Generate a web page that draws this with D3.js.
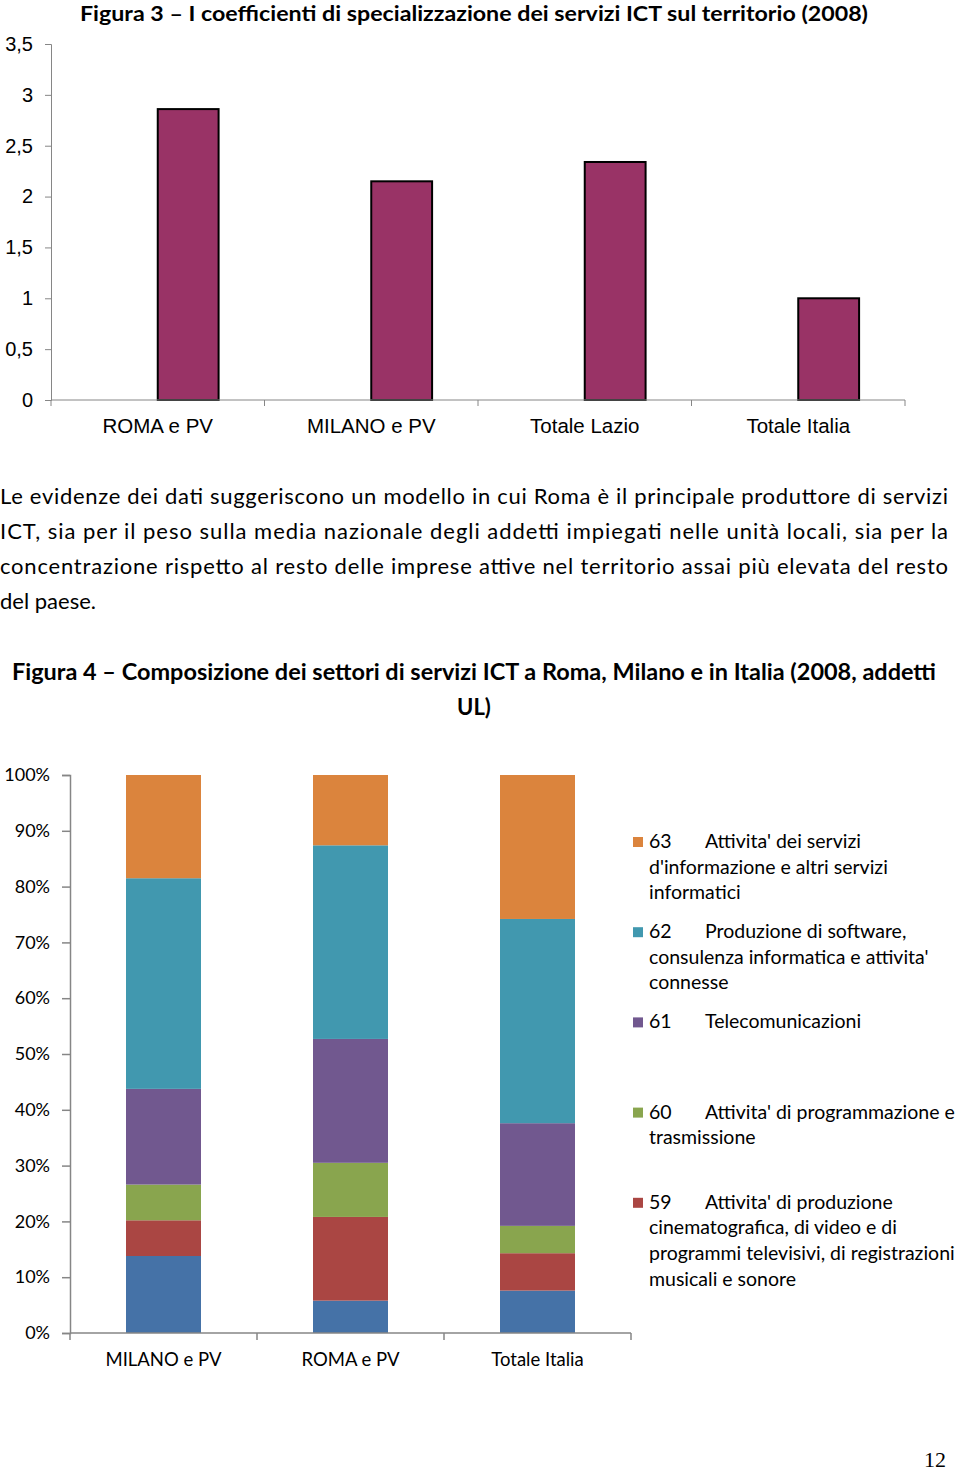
<!DOCTYPE html>
<html><head><meta charset="utf-8">
<script src="https://cdn.jsdelivr.net/npm/d3@7"></script>
<style>body{margin:0;background:#fff}svg{display:block}</style>
</head><body>
<script>
// ---- Figure 3 data
const fig3Title = "Figura 3 – I coefficienti di specializzazione dei servizi ICT sul territorio (2008)";
const fig3Categories = ["ROMA e PV", "MILANO e PV", "Totale Lazio", "Totale Italia"];
const fig3Values = [2.86, 2.15, 2.34, 1.0];
const fig3Ticks = [0, 0.5, 1, 1.5, 2, 2.5, 3, 3.5];

// ---- paragraph
const paragraphLines = [
  "Le evidenze dei dati suggeriscono un modello in cui Roma è il principale produttore di servizi",
  "ICT, sia per il peso sulla media nazionale degli addetti impiegati nelle unità locali, sia per la",
  "concentrazione rispetto al resto delle imprese attive nel territorio assai più elevata del resto",
  "del paese."
];

// ---- Figure 4 data
const fig4TitleLines = ["Figura 4 – Composizione dei settori di servizi ICT a Roma, Milano e in Italia (2008, addetti", "UL)"];
const fig4Categories = ["MILANO e PV", "ROMA e PV", "Totale Italia"];
const s58 = [13.8, 5.8, 7.6];
const s59 = [6.4, 15.0, 6.7];
const s60 = [6.4, 9.7, 4.9];
const s61 = [17.15, 22.2, 18.4];
const s62 = [37.75, 34.7, 36.6];
const s63 = [18.5, 12.6, 25.8];
const seriesKeys = ["58", "59", "60", "61", "62", "63"];
const seriesValues = [s58, s59, s60, s61, s62, s63];
const seriesColors = ["#4572a7", "#aa4643", "#89a54e", "#71588f", "#4198af", "#db843d"];
const fig4Ticks = [0, 0.1, 0.2, 0.3, 0.4, 0.5, 0.6, 0.7, 0.8, 0.9, 1];
const legendItems = [
  {key: "63", lines: ["Attivita' dei servizi", "d'informazione e altri servizi", "informatici"]},
  {key: "62", lines: ["Produzione di software,", "consulenza informatica e attivita'", "connesse"]},
  {key: "61", lines: ["Telecomunicazioni"]},
  {key: "60", lines: ["Attivita' di programmazione e", "trasmissione"]},
  {key: "59", lines: ["Attivita' di produzione", "cinematografica, di video e di", "programmi televisivi, di registrazioni", "musicali e sonore"]}
];
const pageNumber = "12";

const W = 960, H = 1474;
const svg = d3.select("body").append("svg").attr("width", W).attr("height", H);
const cal = "Lato, 'Open Sans', sans-serif";
const ari = "'Liberation Sans', Arial, sans-serif";
const axisColor = "#868686";

// ================= Figure 3 =================
svg.append("text").attr("x", 80).attr("y", 21).attr("font-family", cal).attr("font-weight", "bold")
  .attr("font-size", 21).attr("textLength", 788).attr("lengthAdjust", "spacingAndGlyphs").text(fig3Title);

const y3 = d3.scaleLinear().domain([0, 3.5]).range([400, 44]);
const x3 = d3.scaleBand().domain(fig3Categories).range([51, 905]).padding(0);

const ax3 = svg.append("g").attr("transform", "translate(51,0)")
  .call(d3.axisLeft(y3).tickValues(fig3Ticks).tickSize(6).tickPadding(12)
    .tickFormat(d => String(d).replace(".", ",")));
ax3.selectAll("path,line").attr("stroke", axisColor);
ax3.selectAll("text").attr("font-family", ari).attr("font-size", 20).attr("fill", "#000");

svg.append("g").selectAll("rect").data(fig3Values).join("rect")
  .attr("x", (d, i) => x3(fig3Categories[i]) + x3.bandwidth() / 2)
  .attr("width", x3.bandwidth() * 0.285)
  .attr("y", d => y3(d)).attr("height", d => y3(0) - y3(d))
  .attr("fill", "#993366").attr("stroke", "#000").attr("stroke-width", 2);

const bx3 = svg.append("g");
bx3.append("line").attr("x1", 51).attr("x2", 905).attr("y1", y3(0)).attr("y2", y3(0)).attr("stroke", axisColor);
const edges3 = fig3Categories.map(c => x3(c)).concat([x3.range()[1]]);
bx3.selectAll(".tk").data(edges3).join("line").attr("x1", d => d).attr("x2", d => d)
  .attr("y1", y3(0)).attr("y2", y3(0) + 6).attr("stroke", axisColor);
bx3.selectAll("text").data(fig3Categories).join("text")
  .attr("x", d => x3(d) + x3.bandwidth() / 2).attr("y", 433).attr("text-anchor", "middle")
  .attr("font-family", ari).attr("font-size", 20.5).text(d => d);

// ================= paragraph =================
svg.append("g").selectAll("text").data(paragraphLines).join("text")
  .attr("x", 0).attr("y", (d, i) => 504 + i * 35)
  .attr("font-family", cal).attr("font-size", 22)
  .each(function (d, i) {
    if (i < paragraphLines.length - 1) d3.select(this).attr("textLength", 948).attr("lengthAdjust", "spacing");
  })
  .text(d => d);

// ================= Figure 4 =================
svg.append("text").attr("x", 12).attr("y", 680).attr("font-family", cal).attr("font-weight", "bold")
  .attr("font-size", 22).attr("textLength", 924).attr("lengthAdjust", "spacingAndGlyphs").text(fig4TitleLines[0]);
svg.append("text").attr("x", 474).attr("y", 715).attr("text-anchor", "middle").attr("font-family", cal)
  .attr("font-weight", "bold").attr("font-size", 22).text(fig4TitleLines[1]);

const y4 = d3.scaleLinear().domain([0, 1]).range([1333, 775]);
const x4 = d3.scaleBand().domain(fig4Categories).range([70, 631]).padding(0);
const barW4 = 75;

const ax4 = svg.append("g").attr("transform", "translate(70,0)")
  .call(d3.axisLeft(y4).tickValues(fig4Ticks).tickSize(8).tickPadding(12).tickFormat(d3.format(".0%")));
ax4.selectAll("path,line").attr("stroke", axisColor).attr("stroke-width", 1.5);
ax4.selectAll("text").attr("font-family", cal).attr("font-size", 18).attr("fill", "#000");

const rows = fig4Categories.map((c, i) => {
  const o = {cat: c};
  seriesKeys.forEach((k, j) => o[k] = seriesValues[j][i] / 100);
  return o;
});
const stacked = d3.stack().keys(seriesKeys)(rows);
svg.append("g").selectAll("g").data(stacked).join("g")
  .attr("fill", (d, i) => seriesColors[i])
  .selectAll("rect").data(d => d).join("rect")
  .attr("x", d => x4(d.data.cat) + x4.bandwidth() / 2 - barW4 / 2)
  .attr("width", barW4)
  .attr("y", d => y4(d[1])).attr("height", d => y4(d[0]) - y4(d[1]));

const bx4 = svg.append("g");
bx4.append("line").attr("x1", 70).attr("x2", 631).attr("y1", y4(0)).attr("y2", y4(0)).attr("stroke", axisColor).attr("stroke-width", 1.5);
const edges4 = fig4Categories.map(c => x4(c)).concat([x4.range()[1]]);
bx4.selectAll(".tk").data(edges4).join("line").attr("x1", d => d).attr("x2", d => d)
  .attr("y1", y4(0)).attr("y2", y4(0) + 7).attr("stroke", axisColor).attr("stroke-width", 1.5);
bx4.selectAll("text").data(fig4Categories).join("text")
  .attr("x", d => x4(d) + x4.bandwidth() / 2).attr("y", 1366).attr("text-anchor", "middle")
  .attr("font-family", cal).attr("font-size", 18.5).text(d => d);

// legend
const colorOf = k => seriesColors[seriesKeys.indexOf(k)];
const lg = svg.append("g").selectAll("g").data(legendItems).join("g")
  .attr("transform", (d, i) => `translate(633,${842 + i * 90.2})`);
lg.append("rect").attr("x", 0).attr("y", -5).attr("width", 10).attr("height", 10).attr("fill", d => colorOf(d.key));
lg.append("text").attr("x", 16).attr("y", 6).attr("font-family", cal).attr("font-size", 19.5).text(d => d.key);
lg.each(function (d) {
  const g = d3.select(this);
  g.selectAll(".ln").data(d.lines).join("text")
    .attr("x", (t, j) => j === 0 ? 72 : 16).attr("y", (t, j) => 6 + j * 25.6)
    .attr("font-family", cal).attr("font-size", 19.5).text(t => t);
});

// page number
svg.append("text").attr("x", 946).attr("y", 1467).attr("text-anchor", "end")
  .attr("font-family", "'Liberation Serif', 'DejaVu Serif', serif").attr("font-size", 22).text(pageNumber);
</script>
</body></html>
